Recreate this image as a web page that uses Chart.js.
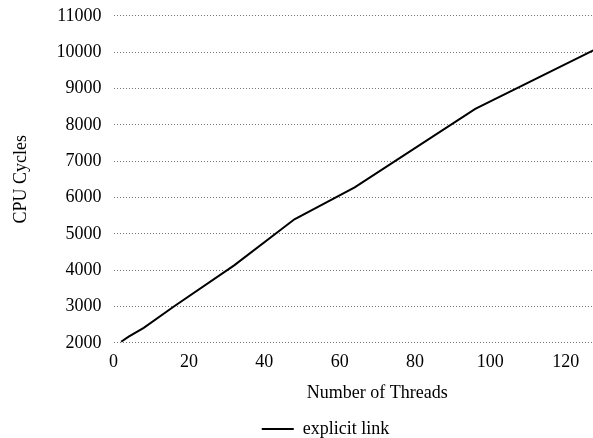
<!DOCTYPE html>
<html>
<head>
<meta charset="utf-8">
<script src="https://cdn.jsdelivr.net/npm/chart.js@4/dist/chart.umd.min.js"></script>
<style>
  html, body { margin: 0; padding: 0; background: #fff; overflow: hidden; }
  /* the original figure is cropped: the plot runs on to x = 140 on the right */
  #wrap { width: 654px; height: 455px; margin-top: -7px; }
</style>
</head>
<body>
<div id="wrap"><canvas id="chart"></canvas></div>
<script>
// Data
const threads = [2, 4, 8, 16, 32, 48, 64, 96, 128];
const cycles = [2030, 2170, 2410, 3000, 4130, 5400, 6280, 8440, 10080];
const seriesLabel = 'explicit link';
const xTicks = [0, 20, 40, 60, 80, 100, 120];

const serif = "'Liberation Serif', 'Times New Roman', serif";
const fontSize = 18;

new Chart(document.getElementById('chart'), {
  type: 'line',
  data: {
    datasets: [{
      label: seriesLabel,
      data: threads.map((t, i) => ({ x: t, y: cycles[i] })),
      borderColor: '#000',
      backgroundColor: '#000',
      borderWidth: 2,
      pointRadius: 0,
      tension: 0,
      fill: false
    }]
  },
  options: {
    responsive: true,
    maintainAspectRatio: false,
    animation: false,
    layout: { padding: { top: 0, right: 13, left: 10, bottom: 0 } },
    scales: {
      x: {
        type: 'linear',
        min: 0,
        max: 140,
        afterBuildTicks: axis => { axis.ticks = xTicks.map(v => ({ value: v })); },
        grid: { display: false, drawTicks: false },
        border: { display: false },
        ticks: {
          color: '#000',
          padding: 9,
          autoSkip: false,
          maxRotation: 0,
          font: { family: serif, size: fontSize },
          callback: v => String(v)
        },
        title: {
          display: true,
          text: 'Number of Threads',
          color: '#000',
          font: { family: serif, size: fontSize },
          padding: { top: 0, bottom: 15 }
        }
      },
      y: {
        min: 2000,
        max: 11000,
        grid: { color: '#777', lineWidth: 1, drawTicks: false, tickLength: 0 },
        border: { display: false, dash: [1, 2] },
        ticks: {
          stepSize: 1000,
          color: '#000',
          padding: 12,
          font: { family: serif, size: fontSize },
          callback: v => String(v)
        },
        title: {
          display: true,
          text: 'CPU Cycles',
          color: '#000',
          font: { family: serif, size: fontSize },
          padding: { top: 0, bottom: 13 }
        }
      }
    },
    plugins: {
      legend: {
        position: 'bottom',
        labels: {
          color: '#000',
          font: { family: serif, size: fontSize },
          boxWidth: 32,
          boxHeight: 0,
          padding: 1,
          generateLabels: chart => [{
            text: seriesLabel,
            strokeStyle: '#000',
            fillStyle: '#000',
            lineWidth: 2,
            fontColor: '#000'
          }]
        }
      },
      tooltip: { enabled: false }
    }
  }
});
</script>
</body>
</html>
